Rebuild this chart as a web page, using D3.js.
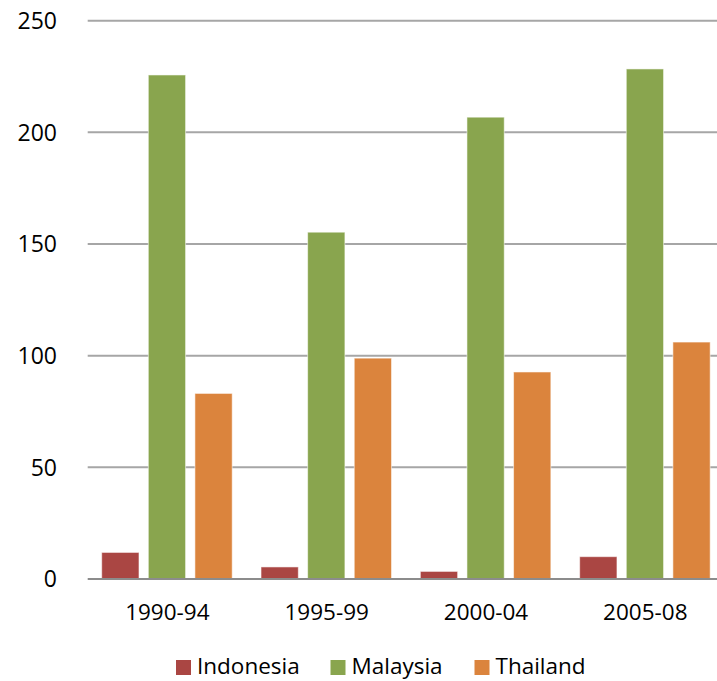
<!DOCTYPE html>
<html>
<head>
<meta charset="utf-8">
<script src="https://cdn.jsdelivr.net/npm/d3@7/dist/d3.min.js"></script>
<style>
  html, body { margin: 0; padding: 0; background: #fff; }
  svg { display: block; font-family: "Open Sans", "Liberation Sans", sans-serif; }
</style>
</head>
<body>
<svg id="chart" width="717" height="681"></svg>
<script>
// Data
const periods = ["1990-94", "1995-99", "2000-04", "2005-08"];
const seriesNames = ["Indonesia", "Malaysia", "Thailand"];
const indonesia = [11.9, 5.4, 3.4, 10.0];
const malaysia = [225.7, 155.3, 206.8, 228.4];
const thailand = [83.1, 98.9, 92.7, 106.1];
const seriesColors = ["#AA4643", "#89A54E", "#DB843D"];
const yTicks = [0, 50, 100, 150, 200, 250];

const seriesValues = [indonesia, malaysia, thailand];

const svg = d3.select("#chart");
const W = 717;

const x0 = d3.scaleBand().domain(periods).range([87.7, 725]).paddingInner(0).paddingOuter(0);
const x1 = d3.scaleBand().domain(seriesNames).range([14, 144.5]).paddingInner(0.2).paddingOuter(0);
const y = d3.scaleLinear().domain([0, 250]).range([579, 20.7]);

// Gridlines
svg.append("g")
  .selectAll("line")
  .data(yTicks.filter(d => d > 0))
  .join("line")
  .attr("x1", 87.7).attr("x2", W)
  .attr("y1", d => y(d)).attr("y2", d => y(d))
  .attr("stroke", "#a6a6a6").attr("stroke-width", 2);

// Y tick labels
svg.append("g")
  .selectAll("text")
  .data(yTicks)
  .join("text")
  .attr("x", 57).attr("y", d => y(d))
  .attr("dy", "0.36em")
  .attr("text-anchor", "end")
  .attr("font-size", 23)
  .attr("fill", "#000")
  .text(d => d);

// Bars
const groups = svg.append("g")
  .selectAll("g")
  .data(periods)
  .join("g")
  .attr("transform", p => `translate(${x0(p)},0)`);

groups.selectAll("rect")
  .data((p, i) => seriesNames.map((s, k) => ({ s, v: seriesValues[k][i], k })))
  .join("rect")
  .attr("x", d => x1(d.s))
  .attr("width", x1.bandwidth())
  .attr("y", d => y(d.v))
  .attr("height", d => y(0) - y(d.v))
  .attr("fill", d => seriesColors[d.k])
  .attr("stroke", "rgba(255,255,255,0.55)")
  .attr("stroke-width", 1);

// Baseline axis
svg.append("line")
  .attr("x1", 87.7).attr("x2", W)
  .attr("y1", y(0)).attr("y2", y(0))
  .attr("stroke", "#8c8c8c").attr("stroke-width", 2);

// Category labels
svg.append("g")
  .selectAll("text")
  .data(periods)
  .join("text")
  .attr("x", p => x0(p) + x0.bandwidth() / 2)
  .attr("y", 620)
  .attr("text-anchor", "middle")
  .attr("font-size", 22.5)
  .attr("fill", "#000")
  .text(p => p);

// Legend
const legendX = [176, 330.5, 474.5];
const legend = svg.append("g")
  .selectAll("g")
  .data(seriesNames)
  .join("g")
  .attr("transform", (d, i) => `translate(${legendX[i]},0)`);
legend.append("rect")
  .attr("x", 0).attr("y", 660).attr("width", 15).attr("height", 15)
  .attr("fill", (d, i) => seriesColors[i]);
legend.append("text")
  .attr("x", 21).attr("y", 674)
  .attr("font-size", 22.5)
  .attr("fill", "#000")
  .text(d => d);
</script>
</body>
</html>
